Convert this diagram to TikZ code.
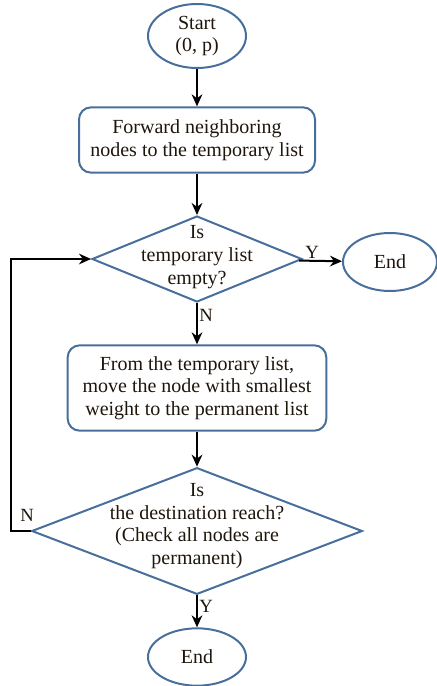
\documentclass[tikz,border=0pt]{standalone}
\usepackage{fontspec}
\setmainfont{Liberation Serif}
\usetikzlibrary{shapes.geometric,arrows.meta}
\definecolor{shapeblue}{RGB}{72,110,156}
\definecolor{inkdark}{RGB}{30,22,12}

\begin{document}
\begin{tikzpicture}[
        x=0.75pt, y=-0.75pt,
        every node/.style={font=\fontsize{15}{17}\selectfont, text=inkdark},
        terminal/.style={ellipse, draw=shapeblue, line width=1.5pt, inner sep=0pt, align=center},
        process/.style={rectangle, rounded corners=9pt, draw=shapeblue, line width=1.5pt, align=center, inner sep=2pt},
        decision/.style={diamond, draw=shapeblue, line width=1.5pt, inner sep=0pt},
        question/.style={align=center, inner sep=0pt},
        flow/.style={-{Stealth[length=9pt,width=8pt]}, line width=1.5pt, black},
        answer/.style={font=\fontsize{14}{16}\selectfont, inner sep=1pt}
    ]
        \useasboundingbox (0,0) rectangle (436,686);

        \node[terminal, minimum width=73.5pt, minimum height=48pt] (start) at (197,36) {Start\\(0, p)};
        \node[process, minimum width=177pt, minimum height=49pt] (forward) at (197,140)
            {Forward neighboring\\nodes to the temporary list};
        \node[decision, minimum width=157.5pt, minimum height=64.5pt] (empty) at (197,259) {};
        \node[question] at (197,257) {Is\\temporary list\\empty?};
        \node[terminal, minimum width=70.5pt, minimum height=43.5pt] (endright) at (390,262) {End};
        \node[process, minimum width=194pt, minimum height=64pt] (move) at (197,388)
            {From the temporary list,\\move the node with smallest\\weight to the permanent list};
        \node[decision, minimum width=248pt, minimum height=95pt] (reach) at (197,531) {};
        \node[question] at (197,526) {Is\\the destination reach?\\(Check all nodes are\\permanent)};
        \node[terminal, minimum width=73.5pt, minimum height=43pt] (endbottom) at (197,657) {End};

        \draw[flow] (start) -- (forward);
        \draw[flow] (forward) -- (empty);
        \draw[flow] (empty) -- node[answer, above, pos=0.3] {Y} (endright);
        \draw[flow] (empty) -- node[answer, right, pos=0.3] {N} (move);
        \draw[flow] (move) -- (reach);
        \draw[flow] (reach) -- node[answer, right, pos=0.35] {Y} (endbottom);
        \draw[flow] (reach.west) -- ++(-20,0) coordinate (loop) |- (empty.west);
        \node[answer, above right] at ([shift={(8,-8)}]loop) {N};

    \end{tikzpicture}
\end{document}
